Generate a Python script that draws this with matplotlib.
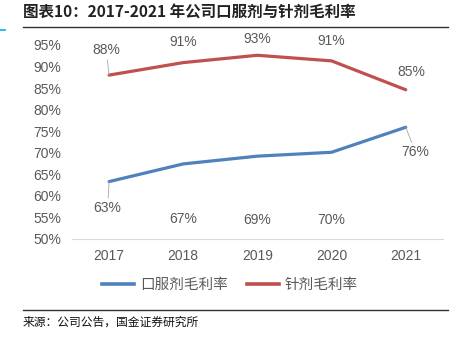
import matplotlib
matplotlib.use('Agg')
import matplotlib.pyplot as plt
from matplotlib.lines import Line2D

plt.rcParams['font.family'] = ['Liberation Sans', 'Noto Sans CJK SC', 'DejaVu Sans']

# === Data ===
years = ['2017', '2018', '2019', '2020', '2021']
oral_margin = [63.3, 67.4, 69.2, 70.1, 75.9]
inject_margin = [88.0, 90.9, 92.6, 91.3, 84.6]
series_names = ['口服剂毛利率', '针剂毛利率']
yticks = [50, 55, 60, 65, 70, 75, 80, 85, 90, 95]

blue = '#4F81BD'
red = '#C0504D'
gray = '#595959'

fig = plt.figure(figsize=(4.57, 3.37), dpi=100)
ax = fig.add_axes([0.1575, 0.291, 0.8115, 0.5757])

x = list(range(len(years)))
ax.plot(x, oral_margin, color=blue, lw=2.3, solid_capstyle='round')
ax.plot(x, inject_margin, color=red, lw=2.3, solid_capstyle='round')

ax.set_xlim(-0.5, len(years) - 0.5)
ax.set_ylim(50, 95)
ax.set_yticks(yticks)
ax.set_yticklabels([f'{v}%' for v in yticks])
ax.set_xticks(x)
ax.set_xticklabels(years)
ax.tick_params(axis='both', length=0, labelsize=10, colors=gray)
ax.tick_params(axis='y', pad=8)
ax.tick_params(axis='x', pad=7)
for s in ['top', 'right', 'left']:
    ax.spines[s].set_visible(False)
ax.spines['bottom'].set_color('#D9D9D9')
ax.spines['bottom'].set_linewidth(0.8)

# === Data labels (offsets in points) ===
lab_kw = dict(textcoords='offset points', ha='center', va='center',
              fontsize=10, color=gray)
line_kw = dict(arrowstyle='-', color='#A6A6A6', lw=0.6, shrinkA=0, shrinkB=0)
inj_off = [(-2, 18), (0, 15), (0, 12), (0, 14), (4, 13)]
oral_off = [(-1, -19), (0, -40), (0, -46), (0, -49), (7, -18)]
for i, v in enumerate(inject_margin):
    ap = line_kw if i == 0 else None
    ax.annotate(f'{round(v)}%', (i, v), xytext=inj_off[i], arrowprops=ap, **lab_kw)
for i, v in enumerate(oral_margin):
    ap = line_kw if i in (0, 4) else None
    ax.annotate(f'{round(v)}%', (i, v), xytext=oral_off[i], arrowprops=ap, **lab_kw)

# === Legend ===
handles = [Line2D([0], [0], color=blue, lw=2.6),
           Line2D([0], [0], color=red, lw=2.6)]
leg = fig.legend(handles, series_names, loc='center', bbox_to_anchor=(0.503, 0.155),
                 ncol=2, frameon=False, fontsize=10.5, handlelength=2.2,
                 handletextpad=0.4, columnspacing=1.3)
for t in leg.get_texts():
    t.set_color(gray)
    t.set_family(['Noto Sans CJK SC', 'DejaVu Sans'])

# === Title, rules, source ===
fig.text(0.05, 0.962, '图表10：2017-2021 年公司口服剂与针剂毛利率', fontsize=11.2,
         fontweight='bold', style='italic', color='#222222', va='center',
         family=['Noto Sans CJK SC', 'DejaVu Sans'])
fig.add_artist(Line2D([0.05, 0.98], [0.92, 0.92], color='#333333', lw=1.0))
fig.add_artist(Line2D([0.0, 0.011], [0.912, 0.912], color='#00B0F0', lw=1.2))
fig.add_artist(Line2D([0.05, 0.98], [0.08, 0.08], color='#333333', lw=1.0))
fig.text(0.05, 0.045, '来源：公司公告，国金证券研究所', fontsize=8.5, color='#111111',
         va='center', family=['Noto Sans CJK SC', 'DejaVu Sans'])

plt.savefig('out.png', dpi=100)
plt.close()
